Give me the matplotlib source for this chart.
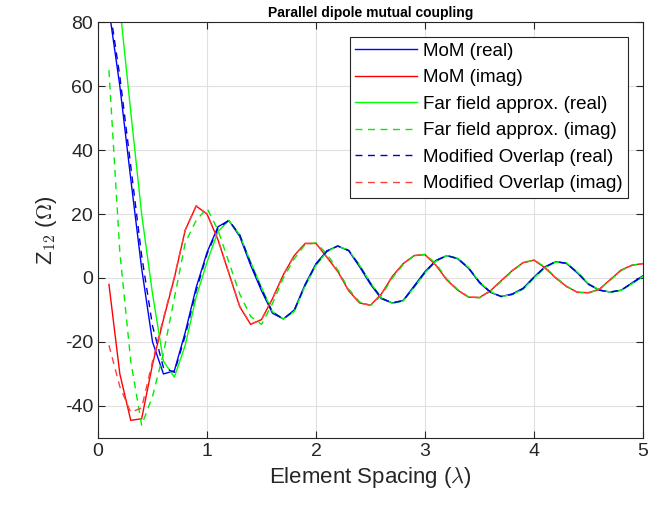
import matplotlib
matplotlib.use("Agg")
import matplotlib.pyplot as plt
import numpy as np

# element spacing in wavelengths
spacing = np.round(np.arange(1, 51) * 0.1, 1)

mom_real = [84, 60, 31, 3, -20, -30, -29, -17, -3, 8,
            16, 18, 13, 4, -4, -11, -12.8, -10, -2, 4.5,
            8.5, 10, 8.5, 3.5, -2, -6.5, -7.8, -7, -2.5, 2,
            5.5, 7, 6, 3, -1.5, -4.5, -5.8, -5, -3.2, 0.3,
            3.5, 5.1, 4.5, 1.5, -2, -3.8, -4.4, -3.8, -1.5, 0.7]
mom_imag = [-2, -30, -44.5, -44, -27, -13, 0, 15, 22.5, 20,
            12, 1.5, -9, -14.5, -13, -6.5, 1, 7, 10.8, 10.8,
            6.5, 2, -4, -7.8, -8.5, -5, 0.5, 4.5, 7, 7.3,
            4, -0.6, -3.8, -6, -6.1, -4, -0.8, 2.3, 4.8, 5.6,
            3.2, 0, -2.7, -4.5, -4.6, -3.5, -0.5, 2.5, 4, 4.5]
ff_real = [120, 85, 52, 20, -5, -26, -31, -21, -6, 5,
           14.5, 18, 13.5, 5, -3, -10.5, -12.8, -10.5, -2.5, 4,
           8.2, 10, 8.7, 4, -1.5, -6.2, -7.9, -7.2, -3, 1.6,
           5.2, 7, 6.2, 3.3, -1.2, -4.3, -5.8, -5.2, -3.5, 0,
           3.2, 5, 4.7, 1.8, -1.8, -3.7, -4.4, -3.9, -1.8, 0.5]
ff_imag = [65, 8, -26, -46, -37, -23.5, -6.3, 11, 18, 21.8,
           15, 5, -5, -12, -14.5, -8, 0, 6, 10.5, 11,
           7.5, 2.5, -3.5, -7.5, -8.6, -5.5, 0, 4.2, 7, 7.4,
           4.5, -0.3, -3.6, -5.9, -6.2, -4.2, -1, 2.1, 4.7, 5.6,
           3.5, 0.2, -2.6, -4.4, -4.7, -3.6, -0.7, 2.3, 4, 4.5]
mo_real = [86, 63, 35, 7, -15, -28, -29.5, -18, -4, 7.5,
           15.5, 18, 13.5, 4.5, -3.5, -10.7, -12.8, -10.2, -2.2, 4.3,
           8.4, 10, 8.6, 3.8, -1.7, -6.3, -7.8, -7.1, -2.7, 1.8,
           5.4, 7, 6.1, 3.1, -1.3, -4.4, -5.8, -5.1, -3.3, 0.2,
           3.4, 5.1, 4.6, 1.6, -1.9, -3.8, -4.4, -3.8, -1.6, 0.6]
mo_imag = [-21, -34, -42, -40.6, -26, -12.5, 0.3, 15, 22.6, 20,
           12, 1.6, -8.8, -14.4, -13, -6.4, 1, 7, 10.8, 10.8,
           6.5, 2, -4, -7.8, -8.5, -5, 0.5, 4.5, 7, 7.3,
           4, -0.6, -3.8, -6, -6.1, -4, -0.8, 2.3, 4.8, 5.6,
           3.2, 0, -2.7, -4.5, -4.6, -3.5, -0.5, 2.5, 4, 4.5]

plt.rcParams["font.family"] = ["Liberation Sans", "DejaVu Sans"]
plt.rcParams["mathtext.fontset"] = "cm"
plt.rcParams["axes.unicode_minus"] = False

fig = plt.figure(figsize=(6.67, 5.14), dpi=100)
ax = fig.add_axes([0.147, 0.148, 0.817, 0.809])

ax.plot(spacing, mom_real, color="#0000ff", lw=1.0, label="MoM (real)")
ax.plot(spacing, mom_imag, color="#ff0000", lw=1.0, label="MoM (imag)")
ax.plot(spacing, ff_real, color="#00ff00", lw=1.0, label="Far field approx. (real)")
ax.plot(spacing, ff_imag, color="#00ee00", lw=1.0, ls=(0, (5, 4)), label="Far field approx. (imag)")
ax.plot(spacing, mo_real, color="#0000cc", lw=1.0, ls=(0, (5, 4)), label="Modified Overlap (real)")
ax.plot(spacing, mo_imag, color="#ff4040", lw=1.0, ls=(0, (5, 4)), label="Modified Overlap (imag)")

ax.set_xlim(0, 5)
ax.set_ylim(-50, 80)
ax.set_xticks([0, 1, 2, 3, 4, 5])
ax.set_yticks([-40, -20, 0, 20, 40, 60, 80])
ax.grid(True, color="#e0e0e0", lw=0.8)
ax.set_axisbelow(True)
ax.tick_params(direction="in", labelsize=14, colors="#262626", length=5, top=True, right=True)
for s in ax.spines.values():
    s.set_color("#262626")
    s.set_linewidth(0.8)

ax.set_xlabel(r"Element Spacing ($\lambda$)", fontsize=16, color="#262626")
ax.set_ylabel(r"Z$_{\mathsf{12}}$ ($\Omega$)", fontsize=16, color="#262626", labelpad=4)
ax.set_title("Parallel dipole mutual coupling", fontsize=10, fontweight="bold", pad=4)

leg = ax.legend(loc="upper right", fontsize=13.5, fancybox=False, framealpha=1,
                edgecolor="#262626", handlelength=3.3, borderaxespad=0.8,
                labelspacing=0.5, borderpad=0.3, handletextpad=0.3)
leg.get_frame().set_linewidth(0.8)

fig.savefig("out.png", dpi=100)
